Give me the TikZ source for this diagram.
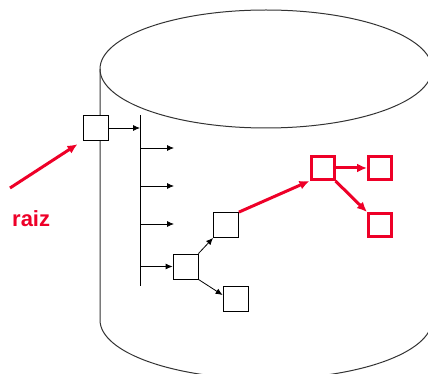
\documentclass[tikz,border=0pt]{standalone}
\usepackage{fontspec}
\newfontfamily\labelfont{Liberation Sans}
\usetikzlibrary{arrows.meta}
\definecolor{raizred}{RGB}{238,0,40}

\begin{document}
\begin{tikzpicture}[x=1pt, y=-1pt]
\tikzstyle{box}=[draw, line width=0.8pt, minimum size=25pt, inner sep=0pt];
\tikzstyle{redbox}=[draw=raizred, line width=3pt, minimum size=23pt, inner sep=0pt];
\tikzstyle{link}=[line width=0.8pt, -{Latex[length=7pt,width=6pt]}];
\tikzstyle{redlink}=[raizred, line width=3pt, -{Latex[length=10pt,width=9pt]}];
\useasboundingbox (0,0) rectangle (428,374);
\clip (0,0) rectangle (428,374);
% cylinder
\draw [black!80, line width=1pt] (266,69) ellipse [x radius=166, y radius=59];
\draw [black!80, line width=1pt] (100,69) -- (100,320)
  arc [start angle=180, end angle=0, x radius=166, y radius=59] -- (432,69);
% index tree
\node [box, fill=white] (root) at (95.5,128) {};
\node [box] (b1) at (185.5,266.5) {};
\node [box] (b2) at (226,225) {};
\node [box] (b3) at (235.5,298.5) {};
\node [redbox] (r1) at (322.5,168) {};
\node [redbox] (r2) at (380,168) {};
\node [redbox] (r3) at (380,225) {};
\coordinate (top) at (140,115);
\coordinate (bot) at (140,286);
\draw [line width=0.8pt] (top) -- (bot);
\draw [link] (root.east) -- (root.east -| top);
\foreach \y [count=\i] in {148,186,224} {
  \coordinate (s\i) at (140,\y);
  \coordinate (e\i) at (174,\y);
  \draw [link] (s\i) -- (e\i);
}
\draw [link] (b1.west -| top) -- (b1.west);
\draw [link] (b1.north east) -- (b2.south west);
\draw [link] (b1.south east) -- (b3.165);
\draw [redlink] (b2.north east) -- (r1.south west);
\draw [redlink] (r1.east) -- (r2.west);
\draw [redlink] (r1.south east) -- (r3.north west);
% raiz pointer
\coordinate (from) at (10,188);
\draw [redlink, shorten >=6pt] (from) -- (root.south west);
\node [anchor=base west, inner sep=0pt, text=raizred, font=\labelfont\bfseries\fontsize{22}{26}\selectfont] (raiz) at (12,226) {raiz};
\end{tikzpicture}
\end{document}
